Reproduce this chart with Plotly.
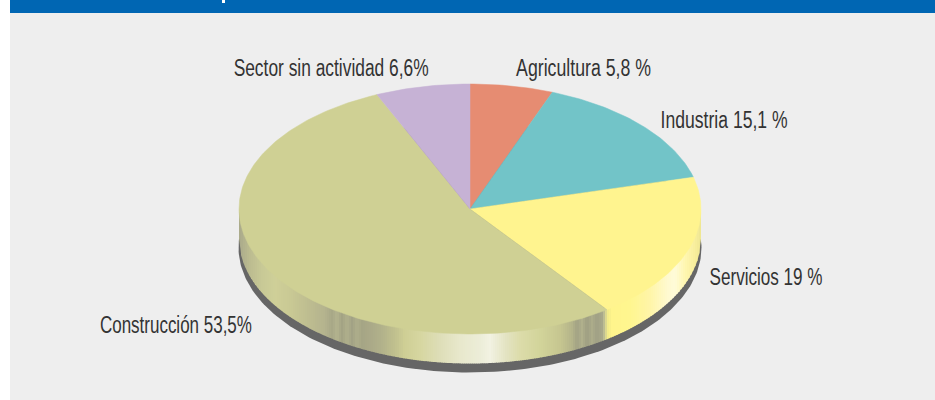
import json
import math
import plotly.graph_objects as go

# --- data ---
labels = ["Agricultura", "Industria", "Servicios", "Construcción", "Sector sin actividad"]
values = [5.8, 15.1, 19.0, 53.5, 6.6]
value_texts = ["5,8 %", "15,1 %", "19 %", "53,5%", "6,6%"]
colors = ["#e68c72", "#72c4c8", "#fff48f", "#cfd094", "#c6b2d5"]

# --- drawing style ---
W, H = 935, 400
CX, CY, RX, RY = 470, 209, 231, 125
DEPTH, SHADOW = 29.5, 38.5
label_left = [516, 660, 709, 100, 233]
label_width = [135, 127, 113, 152, 195]
label_y = [68, 120, 277, 325, 68]
side_stops = [
    (239, "#a9a98a"), (250, "#bcbc90"), (262, "#c8c996"), (275, "#cfcf98"), (290, "#c9c994"),
    (310, "#bdbc90"), (325, "#b4b38e"), (332, "#a8a887"), (337, "#b3b38e"), (342, "#a3a384"),
    (347, "#b0b08c"), (352, "#a2a285"), (357, "#aeae8b"), (362, "#a5a585"), (370, "#aaa988"),
    (380, "#b0b08a"), (395, "#c0c08e"), (405, "#cfcf95"), (420, "#d6d6a0"), (440, "#dedeb8"),
    (460, "#e8e8cc"), (480, "#ecedd8"), (490, "#f2f2e2"), (505, "#e4e4c4"), (520, "#dcdcaa"),
    (540, "#d2d49a"), (560, "#c6c690"), (572, "#b4b48a"), (577, "#a2a284"), (582, "#b0b08c"),
    (587, "#9e9e82"), (592, "#acac8a"), (597, "#a0a085"), (602, "#a8a88a"), (605, "#c8c896"),
    (607, "#f0e888"), (612, "#fff58c"), (630, "#fff68f"), (650, "#fff5a8"), (668, "#fffad0"),
    (675, "#fffbd8"), (685, "#fff7b0"), (695, "#f8ee9c"), (702, "#ece490"),
]


def hex_rgb(c):
    return [int(c[i:i + 2], 16) for i in (1, 3, 5)]


def side_color(x):
    for (x0, c0), (x1, c1) in zip(side_stops, side_stops[1:]):
        if x0 <= x <= x1:
            t = (x - x0) / (x1 - x0)
            a, b = hex_rgb(c0), hex_rgb(c1)
            return "rgb(%d,%d,%d)" % tuple(round(p + (q - p) * t) for p, q in zip(a, b))
    return side_stops[-1][1]


def rim(x):
    u = max(-1.0, min(1.0, (x - CX) / RX))
    return CY + RY * math.sqrt(1 - u * u)


fig = go.Figure()

# shadow ellipse
ang = [i * 2 * math.pi / 360 for i in range(361)]
fig.add_trace(go.Scatter(
    x=[CX + (RX + 0.5) * math.cos(a) for a in ang],
    y=[CY + SHADOW + RY * math.sin(a) for a in ang],
    mode="lines", fill="toself", fillcolor="#666666", line=dict(width=0),
    hoverinfo="skip", showlegend=False))

# side wall, thin vertical strips
x = CX - RX
while x < CX + RX:
    x2 = min(x + 2.5, CX + RX)
    fig.add_trace(go.Scatter(
        x=[x, x2, x2, x],
        y=[rim(x) - 3, rim(x2) - 3, rim(x2) + DEPTH, rim(x) + DEPTH],
        mode="lines", fill="toself", fillcolor=side_color(x + 1),
        line=dict(width=0), hoverinfo="skip", showlegend=False))
    x += 2

# top face: sectors from the values, clockwise from 12 o'clock
total = sum(values)
start = 0.0
for lab, val, col in zip(labels, values, colors):
    n = max(2, int(val * 4))
    ts = [2 * math.pi * (start + val * i / n) / total for i in range(n + 1)]
    fig.add_trace(go.Scatter(
        x=[CX] + [CX + RX * math.sin(t) for t in ts] + [CX],
        y=[CY] + [CY - RY * math.cos(t) for t in ts] + [CY],
        mode="lines", fill="toself", fillcolor=col, line=dict(width=0.5, color=col),
        name=lab, hovertemplate=f"{lab}: {val}<extra></extra>", showlegend=False))
    start += val

widths = {}
for lab, txt, lx, lw, ly in zip(labels, value_texts, label_left, label_width, label_y):
    text = f"{lab} {txt}"
    widths[text] = lw
    fig.add_annotation(x=lx + lw / 2, y=ly, xref="x", yref="y", text=text, showarrow=False,
                       xanchor="center", yanchor="middle",
                       font=dict(family="Liberation Sans, sans-serif", size=23, color="#333333"))

fig.update_layout(
    width=W, height=H, margin=dict(l=0, r=0, t=0, b=0),
    paper_bgcolor="#ffffff", plot_bgcolor="#eeeeee", showlegend=False,
    xaxis=dict(range=[0, W], visible=False, fixedrange=True),
    yaxis=dict(range=[H, 0], visible=False, fixedrange=True),
    shapes=[
        dict(type="rect", xref="x", yref="y", x0=10, x1=W, y0=0, y1=H, fillcolor="#eeeeee", line_width=0, layer="below"),
        dict(type="rect", xref="x", yref="y", x0=0, x1=10, y0=0, y1=H, fillcolor="#ffffff", line_width=0, layer="below"),
        dict(type="rect", xref="x", yref="y", x0=10, x1=W, y0=0, y1=13, fillcolor="#0066b3", line_width=0, layer="below"),
        # the only visible trace of the cropped banner title: the foot of one letter
        dict(type="rect", xref="x", yref="y", x0=222, x1=225, y0=0, y1=3, fillcolor="#ffffff", line_width=0, layer="below"),
    ],
)

# The reference lettering is condensed; no condensed family is installed, so narrow the real text to its width.
post = """
document.body.style.margin='0';
var widths = %s;
document.querySelectorAll('.annotation-text').forEach(function (t) {
  var w = widths[t.textContent];
  if (w) { t.setAttribute('textLength', w); t.setAttribute('lengthAdjust', 'spacingAndGlyphs'); }
});
""" % json.dumps(widths, ensure_ascii=False)
fig.write_html("out.html", config=dict(displayModeBar=False), post_script=post)
